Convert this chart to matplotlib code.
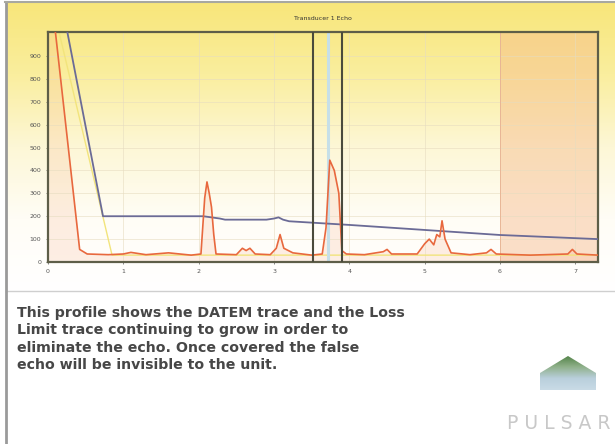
import numpy as np
import matplotlib
matplotlib.use('Agg')
import matplotlib.pyplot as plt
from matplotlib.patches import Polygon
from matplotlib.colors import LinearSegmentedColormap

# echo trace (orange)
echo_x = [0.0, 0.03, 0.1, 0.42, 0.52, 0.8, 1.0, 1.1, 1.3, 1.6, 1.9, 2.03, 2.08,
          2.11, 2.14, 2.17, 2.2, 2.23, 2.5, 2.58, 2.63, 2.68, 2.75, 2.95, 3.03,
          3.08, 3.13, 3.25, 3.5, 3.64, 3.69, 3.74, 3.8, 3.86, 3.9, 3.96, 4.2,
          4.45, 4.5, 4.56, 4.9, 5.0, 5.06, 5.12, 5.16, 5.2, 5.23, 5.27, 5.35,
          5.6, 5.82, 5.88, 5.95, 6.4, 6.9, 6.96, 7.02, 7.3]
echo_y = [1100, 1100, 1000, 55, 35, 32, 35, 42, 32, 40, 30, 35, 280,
          350, 300, 240, 120, 35, 32, 60, 50, 60, 35, 32, 60,
          120, 60, 40, 30, 35, 150, 445, 400, 300, 50, 35, 32,
          45, 55, 35, 35, 80, 100, 75, 120, 110, 180, 100, 40,
          32, 40, 55, 35, 30, 35, 55, 35, 30]

# loss limit trace (blue)
loss_x = [0.0, 0.23, 0.73, 2.06, 2.28, 2.35, 2.9, 3.0, 3.06, 3.12, 3.2, 4.0, 6.0, 7.3]
loss_y = [1050, 1050, 200, 200, 190, 185, 185, 190, 195, 185, 178, 162, 118, 100]

# DATEM trace (pale yellow)
datem_x = [0.15, 0.85, 7.3]
datem_y = [1000, 30, 30]

gate_lines = [3.52, 3.9]
echo_marker = 3.72
blanking_start = 6.0

x_ticks = [0, 1, 2, 3, 4, 5, 6, 7]
y_ticks = [0, 100, 200, 300, 400, 500, 600, 700, 800, 900]

title = 'Transducer 1 Echo'
caption = ['This profile shows the DATEM trace and the Loss',
           'Limit trace continuing to grow in order to',
           'eliminate the echo. Once covered the false',
           'echo will be invisible to the unit.']

W, H = 615, 444
fig = plt.figure(figsize=(W / 100, H / 100), dpi=100)

# background layer in pixel coordinates
bg = fig.add_axes([0, 0, 1, 1], zorder=0)
bg.set_xlim(0, W)
bg.set_ylim(H, 0)
bg.axis('off')
grad = np.linspace(0, 1, 256)[:, None]
panel_cmap = LinearSegmentedColormap.from_list(
    'panel', ['#f8e67a', '#faee9e', '#fdf7d6', '#fffdf6', '#ffffff'])
bg.imshow(grad, cmap=panel_cmap, extent=[6, W, 291, 3], aspect='auto')
bg.plot([6, W], [291, 291], color='#cfcfcf', lw=1)
bg.plot([5.5, 5.5], [2, H], color='#9a9a9a', lw=2)
bg.plot([5, W], [2.5, 2.5], color='#a8a8a0', lw=1.5)

# caption
for i, line in enumerate(caption):
    bg.text(17, 313 + i * 17.3, line, fontsize=10.2, fontweight='bold',
            family='DejaVu Sans', color='#474747', va='center', ha='left')

# logo
logo = Polygon([(540, 390), (540, 373), (568, 356), (596, 373), (596, 390)],
               closed=True, facecolor='none', edgecolor='none')
bg.add_patch(logo)
logo_cmap = LinearSegmentedColormap.from_list(
    'logo', ['#4f8044', '#8fb08a', '#b9cfdc', '#c9dbe6'])
im = bg.imshow(grad, cmap=logo_cmap, extent=[540, 596, 390, 356], aspect='auto')
im.set_clip_path(logo)
bg.text(507, 423, 'P U L S A R', fontsize=13.5, color='#c8c8c8', va='center',
        ha='left', family='DejaVu Sans')

# chart
ax = fig.add_axes([48 / W, (H - 262) / H, 550 / W, 230 / H], zorder=1)
ax.set_facecolor('none')
ax.set_xlim(0, 7.3)
ax.set_ylim(0, 1005)

ax.axvspan(blanking_start, 7.3, color='#f6b98c', alpha=0.45, lw=0)
ax.axvline(blanking_start, color='#e8b090', lw=0.6)
ax.fill_between(echo_x, echo_y, 0, color='#f7b08a', alpha=0.2, lw=0)
ax.grid(True, color='#e6dcc0', lw=0.4)

ax.plot(datem_x, datem_y, color='#f2e47c', lw=1.0, zorder=2)
ax.plot(loss_x, loss_y, color='#6b6b96', lw=1.3, zorder=3)
ax.plot(echo_x, echo_y, color='#e8683e', lw=1.2, zorder=4)

ax.axvline(echo_marker, color='#c6dfe8', lw=2.2, zorder=2)
for g in gate_lines:
    ax.axvline(g, color='#4a4a3c', lw=1.5, zorder=5)

ax.set_xticks(x_ticks)
ax.set_yticks(y_ticks)
ax.tick_params(labelsize=4.5, colors='#555555', length=1.5, width=0.5)
for s in ax.spines.values():
    s.set_color('#5e5e48')
    s.set_linewidth(1.6)

fig.text(323 / W, 1 - 19 / H, title, fontsize=4.5, color='#333333',
         ha='center', va='center')

fig.savefig('out.png', dpi=100)
